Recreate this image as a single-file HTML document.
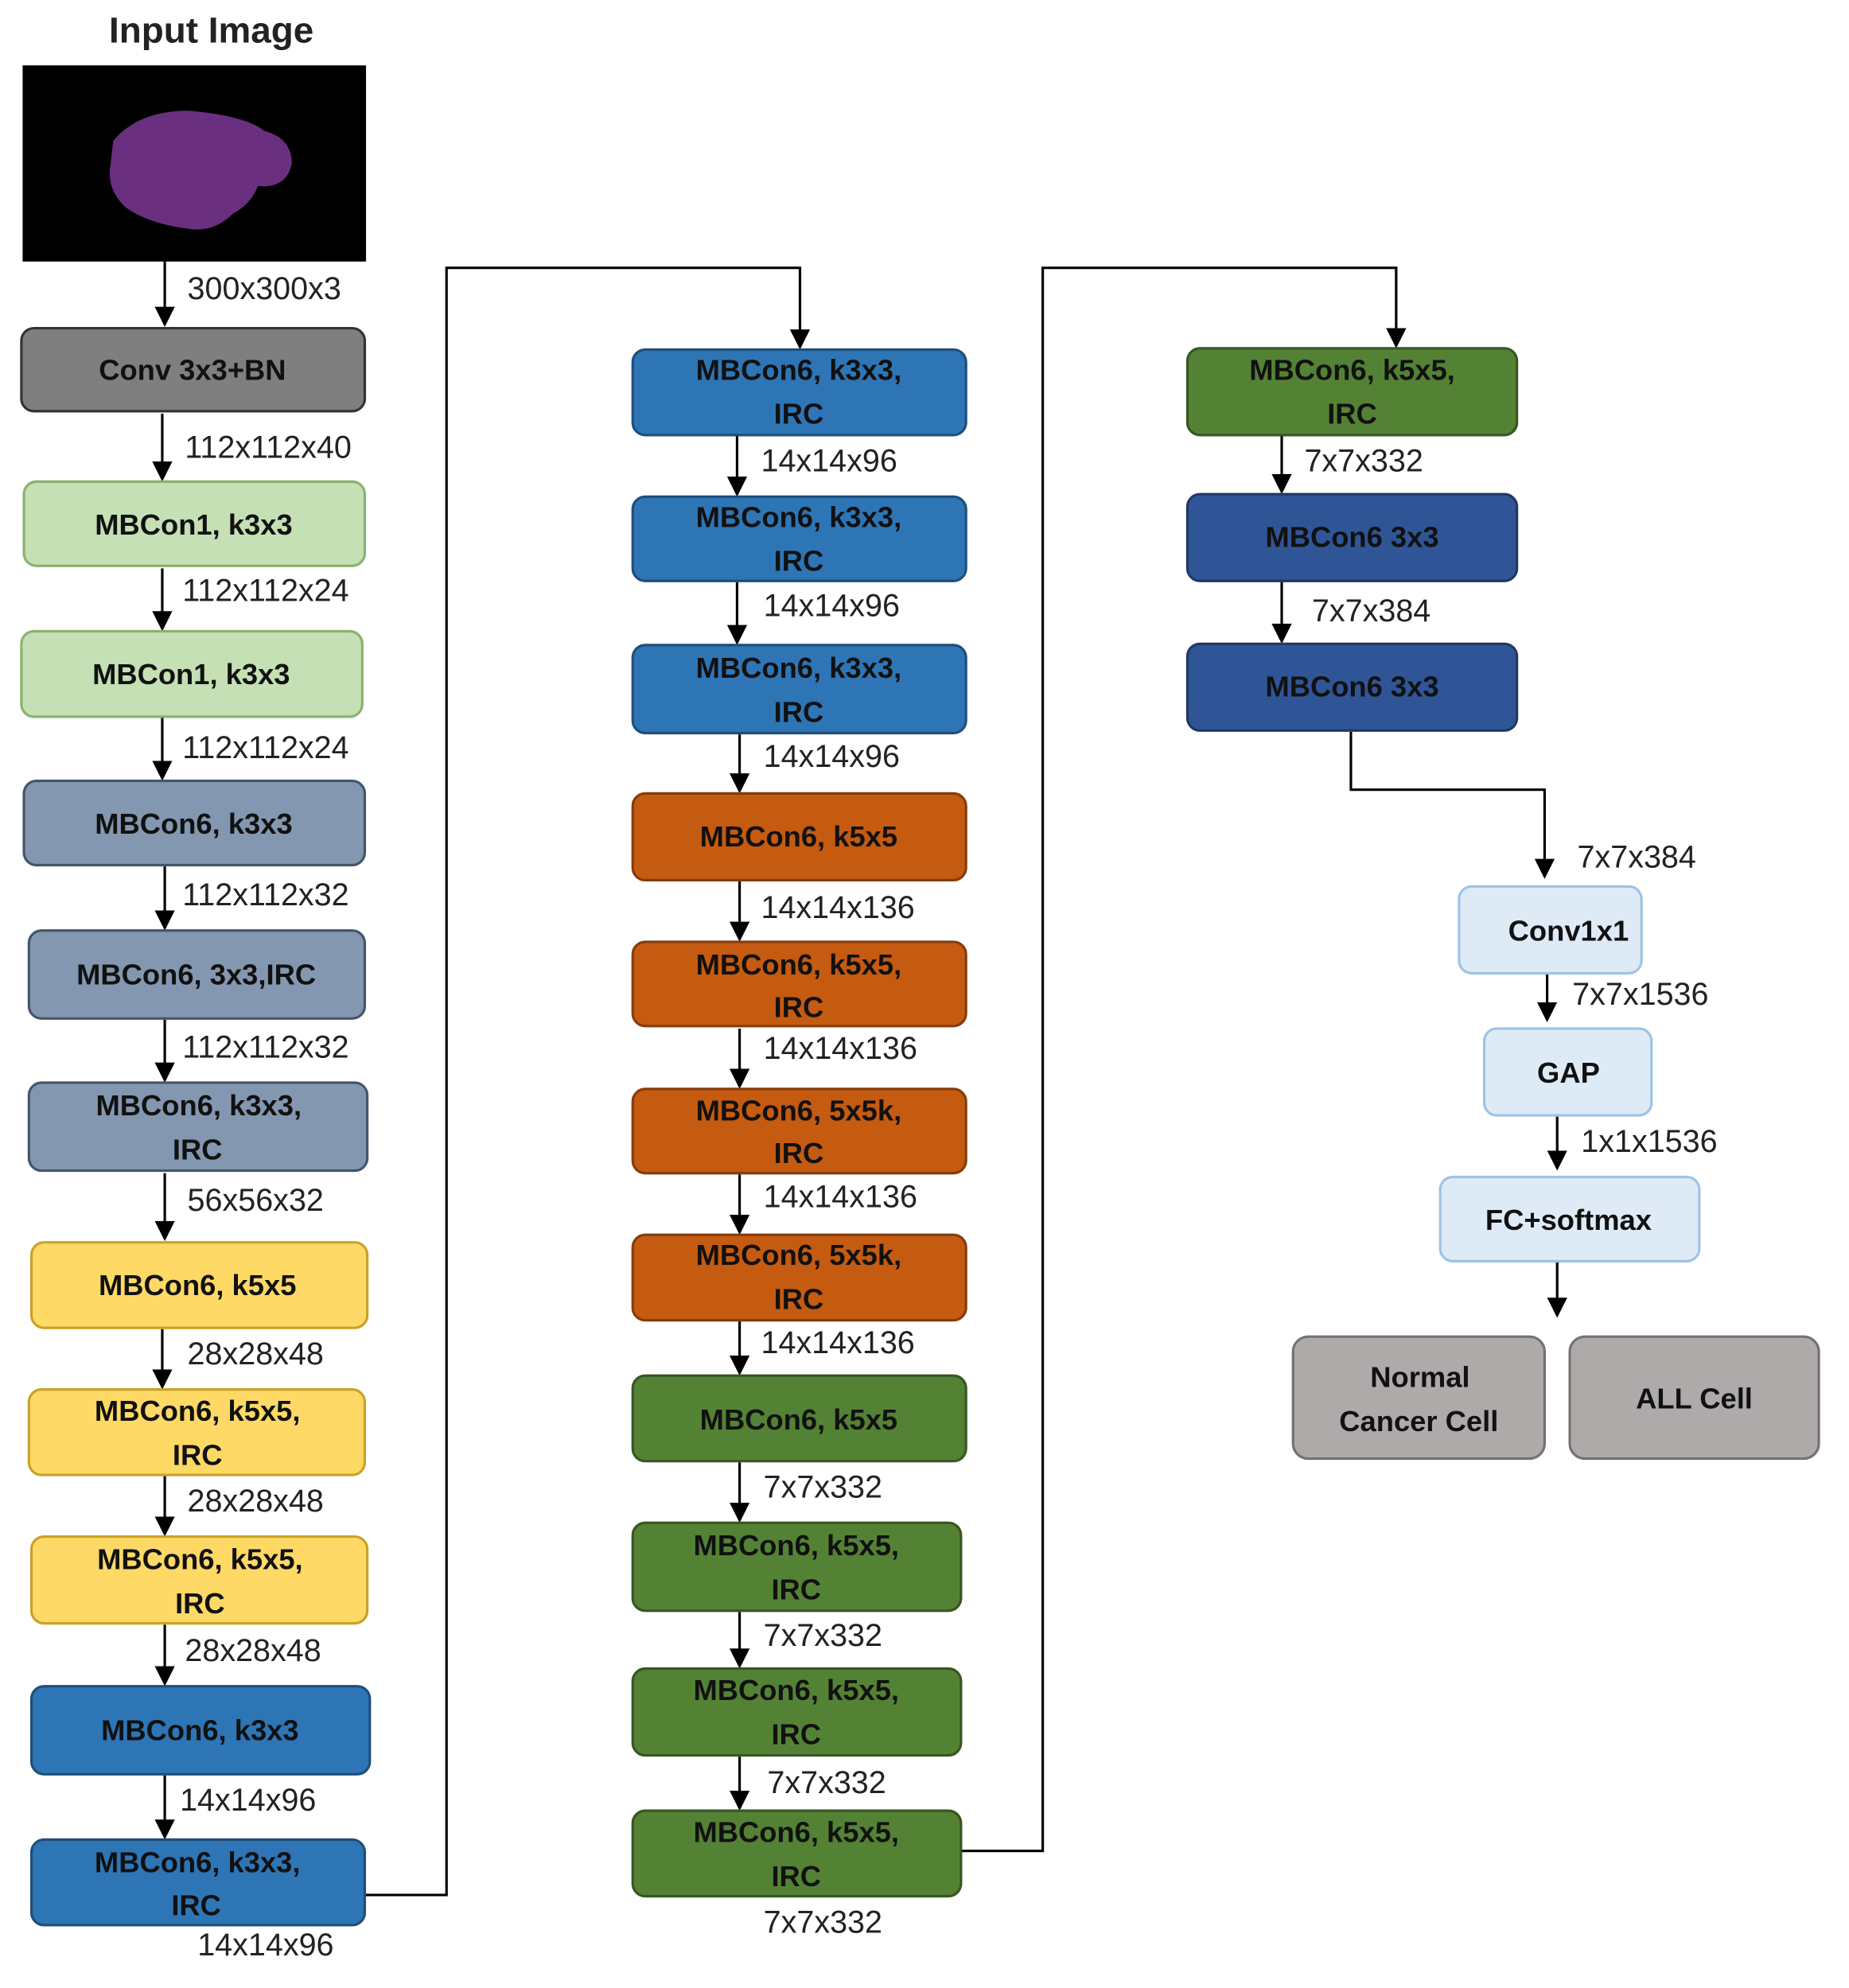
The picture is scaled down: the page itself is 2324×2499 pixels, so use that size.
<!DOCTYPE html>
<html><head><meta charset="utf-8"><style>
html,body{margin:0;padding:0;background:#fff}
svg{display:block}
text{font-family:"Liberation Sans",sans-serif}
.b{font-weight:bold;font-size:23px;text-anchor:middle;fill:#111}
.d{font-size:25px;fill:#222}
</style></head><body>
<svg width="2324" height="2499" viewBox="0 0 1470 1581" preserveAspectRatio="none" xmlns="http://www.w3.org/2000/svg">
<defs><marker id="a" markerWidth="10" markerHeight="10" refX="5" refY="8" orient="auto" markerUnits="userSpaceOnUse" viewBox="0 0 10 10"><path d="M0,0 L10,0 L5,10 z" fill="#000"/></marker>
<marker id="ar" markerWidth="16" markerHeight="16" refX="8" refY="14" orient="0" markerUnits="userSpaceOnUse" viewBox="0 0 16 16"><path d="M0,0 L16,0 L8,16 z" fill="#000"/></marker></defs>
<rect width="1470" height="1581" fill="#fff"/>
<text x="168" y="34" style="font-weight:bold;font-size:29px;text-anchor:middle;fill:#222">Input Image</text>
<rect x="18" y="52" width="273" height="156" fill="#000"/>
<path d="M90,112 Q110,88 150,88 Q195,92 210,104 Q232,110 232,130 Q228,150 205,148 Q200,162 185,170 Q170,185 150,182 Q118,178 100,165 Q84,150 88,130 Z" fill="#6b2f80"/>
<g stroke="#000" stroke-width="2" fill="none" marker-end="url(#ar)">
<line x1="131" y1="208" x2="131" y2="258"/>
<line x1="129" y1="329" x2="129" y2="381"/>
<line x1="129" y1="452" x2="129" y2="500"/>
<line x1="129" y1="571" x2="129" y2="619"/>
<line x1="131" y1="689" x2="131" y2="738"/>
<line x1="131" y1="811" x2="131" y2="859"/>
<line x1="131" y1="933" x2="131" y2="985"/>
<line x1="129" y1="1057" x2="129" y2="1103"/>
<line x1="131" y1="1174" x2="131" y2="1220"/>
<line x1="131" y1="1292" x2="131" y2="1339"/>
<line x1="131" y1="1412" x2="131" y2="1461"/>
<polyline points="290,1507 355,1507 355,213 636,213 636,276"/>
<line x1="586" y1="347" x2="586" y2="393"/>
<line x1="586" y1="463" x2="586" y2="511"/>
<line x1="588" y1="584" x2="588" y2="629"/>
<line x1="588" y1="701" x2="588" y2="747"/>
<line x1="588" y1="818" x2="588" y2="864"/>
<line x1="588" y1="934" x2="588" y2="980"/>
<line x1="588" y1="1046" x2="588" y2="1092"/>
<line x1="588" y1="1163" x2="588" y2="1209"/>
<line x1="588" y1="1282" x2="588" y2="1325"/>
<line x1="588" y1="1397" x2="588" y2="1438"/>
<polyline points="764,1472 829,1472 829,213 1110,213 1110,275"/>
<line x1="1019" y1="347" x2="1019" y2="391"/>
<line x1="1019" y1="463" x2="1019" y2="510"/>
<polyline points="1074,582 1074,628 1228,628 1228,697"/>
<line x1="1230" y1="775" x2="1230" y2="811"/>
<line x1="1238" y1="888" x2="1238" y2="929"/>
<line x1="1238" y1="1004" x2="1238" y2="1046"/>
</g>
<g stroke-width="2">
<rect x="17" y="261" width="273" height="66" rx="10" fill="#7f7f7f" stroke="#333"/>
<rect x="19" y="383" width="271" height="67" rx="10" fill="#c5e0b4" stroke="#8bb16f"/>
<rect x="17" y="502" width="271" height="68" rx="10" fill="#c5e0b4" stroke="#8bb16f"/>
<rect x="19" y="621" width="271" height="67" rx="10" fill="#8497b0" stroke="#44546a"/>
<rect x="23" y="740" width="267" height="70" rx="10" fill="#8497b0" stroke="#44546a"/>
<rect x="23" y="861" width="269" height="70" rx="10" fill="#8497b0" stroke="#44546a"/>
<rect x="25" y="988" width="267" height="68" rx="10" fill="#ffd966" stroke="#c9a227"/>
<rect x="23" y="1105" width="267" height="68" rx="10" fill="#ffd966" stroke="#c9a227"/>
<rect x="25" y="1222" width="267" height="69" rx="10" fill="#ffd966" stroke="#c9a227"/>
<rect x="25" y="1341" width="269" height="70" rx="10" fill="#2e75b6" stroke="#1f4e79"/>
<rect x="25" y="1463" width="265" height="68" rx="10" fill="#2e75b6" stroke="#1f4e79"/>

<rect x="503" y="278" width="265" height="68" rx="10" fill="#2e75b6" stroke="#1f4e79"/>
<rect x="503" y="395" width="265" height="67" rx="10" fill="#2e75b6" stroke="#1f4e79"/>
<rect x="503" y="513" width="265" height="70" rx="10" fill="#2e75b6" stroke="#1f4e79"/>
<rect x="503" y="631" width="265" height="69" rx="10" fill="#c55a11" stroke="#843c0c"/>
<rect x="503" y="749" width="265" height="67" rx="10" fill="#c55a11" stroke="#843c0c"/>
<rect x="503" y="866" width="265" height="67" rx="10" fill="#c55a11" stroke="#843c0c"/>
<rect x="503" y="982" width="265" height="68" rx="10" fill="#c55a11" stroke="#843c0c"/>
<rect x="503" y="1094" width="265" height="68" rx="10" fill="#548235" stroke="#375623"/>
<rect x="503" y="1211" width="261" height="70" rx="10" fill="#548235" stroke="#375623"/>
<rect x="503" y="1327" width="261" height="69" rx="10" fill="#548235" stroke="#375623"/>
<rect x="503" y="1440" width="261" height="68" rx="10" fill="#548235" stroke="#375623"/>

<rect x="944" y="277" width="262" height="69" rx="10" fill="#548235" stroke="#375623"/>
<rect x="944" y="393" width="262" height="69" rx="10" fill="#2f5597" stroke="#203864"/>
<rect x="944" y="512" width="262" height="69" rx="10" fill="#2f5597" stroke="#203864"/>
<rect x="1160" y="705" width="145" height="69" rx="10" fill="#deebf7" stroke="#9dc3e6"/>
<rect x="1180" y="818" width="133" height="69" rx="10" fill="#deebf7" stroke="#9dc3e6"/>
<rect x="1145" y="936" width="206" height="67" rx="10" fill="#deebf7" stroke="#9dc3e6"/>
<rect x="1028" y="1063" width="200" height="97" rx="12" fill="#aeaaaa" stroke="#767171"/>
<rect x="1248" y="1063" width="198" height="97" rx="12" fill="#aeaaaa" stroke="#767171"/>
</g>
<g class="b">
<text x="153" y="302">Conv 3x3+BN</text>
<text x="154" y="425">MBCon1, k3x3</text>
<text x="152" y="544">MBCon1, k3x3</text>
<text x="154" y="663">MBCon6, k3x3</text>
<text x="156" y="783">MBCon6, 3x3,IRC</text>
<text x="158" y="887">MBCon6, k3x3,</text><text x="157" y="922">IRC</text>
<text x="157" y="1030">MBCon6, k5x5</text>
<text x="157" y="1130">MBCon6, k5x5,</text><text x="157" y="1165">IRC</text>
<text x="159" y="1248">MBCon6, k5x5,</text><text x="159" y="1283">IRC</text>
<text x="159" y="1384">MBCon6, k3x3</text>
<text x="157" y="1489">MBCon6, k3x3,</text><text x="156" y="1523">IRC</text>

<text x="635" y="302">MBCon6, k3x3,</text><text x="635" y="337">IRC</text>
<text x="635" y="419">MBCon6, k3x3,</text><text x="635" y="454">IRC</text>
<text x="635" y="539">MBCon6, k3x3,</text><text x="635" y="574">IRC</text>
<text x="635" y="673">MBCon6, k5x5</text>
<text x="635" y="775">MBCon6, k5x5,</text><text x="635" y="809">IRC</text>
<text x="635" y="891">MBCon6, 5x5k,</text><text x="635" y="925">IRC</text>
<text x="635" y="1006">MBCon6, 5x5k,</text><text x="635" y="1041">IRC</text>
<text x="635" y="1137">MBCon6, k5x5</text>
<text x="633" y="1237">MBCon6, k5x5,</text><text x="633" y="1272">IRC</text>
<text x="633" y="1352">MBCon6, k5x5,</text><text x="633" y="1387">IRC</text>
<text x="633" y="1465">MBCon6, k5x5,</text><text x="633" y="1500">IRC</text>

<text x="1075" y="302">MBCon6, k5x5,</text><text x="1075" y="337">IRC</text>
<text x="1075" y="435">MBCon6 3x3</text>
<text x="1075" y="554">MBCon6 3x3</text>
<text x="1247" y="748">Conv1x1</text>
<text x="1247" y="861">GAP</text>
<text x="1247" y="978">FC+softmax</text>
<text x="1129" y="1103">Normal</text><text x="1128" y="1138">Cancer Cell</text>
<text x="1347" y="1120">ALL Cell</text>
</g>
<g class="d">
<text x="149" y="238">300x300x3</text>
<text x="147" y="364">112x112x40</text>
<text x="145" y="478">112x112x24</text>
<text x="145" y="603">112x112x24</text>
<text x="145" y="720">112x112x32</text>
<text x="145" y="841">112x112x32</text>
<text x="149" y="963">56x56x32</text>
<text x="149" y="1085">28x28x48</text>
<text x="149" y="1202">28x28x48</text>
<text x="147" y="1321">28x28x48</text>
<text x="143" y="1440">14x14x96</text>
<text x="157" y="1555">14x14x96</text>
<text x="605" y="375">14x14x96</text>
<text x="607" y="490">14x14x96</text>
<text x="607" y="610">14x14x96</text>
<text x="605" y="730">14x14x136</text>
<text x="607" y="842">14x14x136</text>
<text x="607" y="960">14x14x136</text>
<text x="605" y="1076">14x14x136</text>
<text x="607" y="1191">7x7x332</text>
<text x="607" y="1309">7x7x332</text>
<text x="610" y="1426">7x7x332</text>
<text x="607" y="1537">7x7x332</text>
<text x="1037" y="375">7x7x332</text>
<text x="1043" y="494">7x7x384</text>
<text x="1254" y="690">7x7x384</text>
<text x="1250" y="799">7x7x1536</text>
<text x="1257" y="916">1x1x1536</text>
</g>
</svg>
</body></html>
